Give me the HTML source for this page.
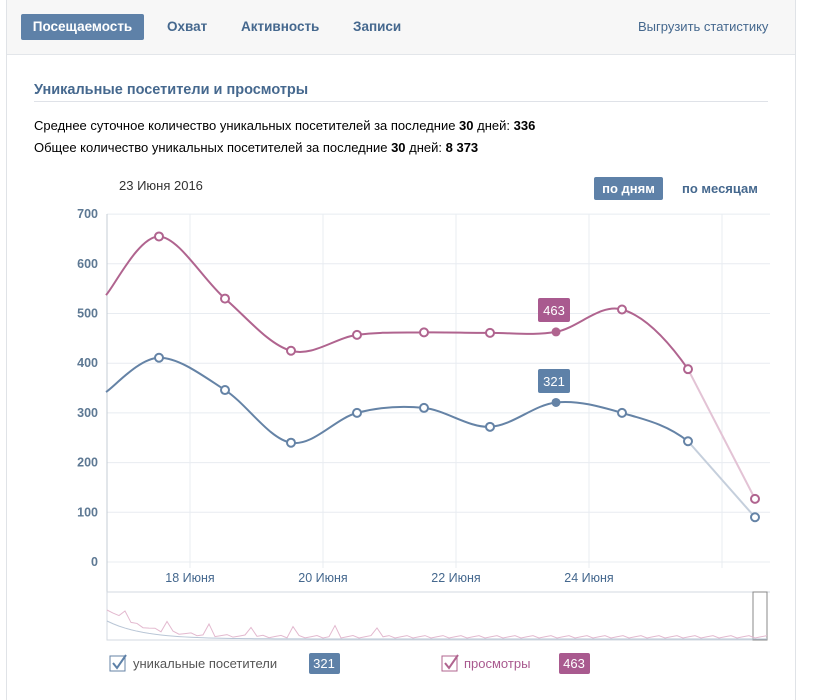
<!DOCTYPE html>
<html><head><meta charset="utf-8"><style>
body{margin:0;width:825px;height:700px;background:#fff;font-family:"Liberation Sans","DejaVu Sans",sans-serif;position:relative;overflow:hidden}
.panel{position:absolute;left:6px;top:0;width:788px;height:700px;border-left:1px solid #e0e3e7;border-right:1px solid #e0e3e7;background:#fff}
.head{position:absolute;left:0;top:0;width:788px;height:54px;background:#f7f7f7;border-bottom:1px solid #e3e6ea}
.t{position:absolute;font-size:13.5px;color:#45688e;font-weight:bold;top:19px}
.sel{position:absolute;left:14px;top:14px;width:123px;height:26px;background:#5e81a8;border-radius:2px;color:#fff;font-weight:bold;font-size:13.5px;line-height:26px;text-align:center}
.a{position:absolute;font-size:13px;color:#000}
</style></head><body>
<div class="panel">
<div class="head">
<div class="sel">Посещаемость</div>
<div class="t" style="left:160px">Охват</div>
<div class="t" style="left:234px">Активность</div>
<div class="t" style="left:346px">Записи</div>
<div class="t" style="left:631px;font-weight:normal;color:#45688e;font-size:13px">Выгрузить статистику</div>
</div>
<div style="position:absolute;left:27px;top:82px;font-size:14.5px;font-weight:bold;color:#45688e">Уникальные посетители и просмотры</div>
<div style="position:absolute;left:27px;top:101px;width:734px;border-top:1px solid #dfe2e8"></div>
<div class="a" style="left:27px;top:118px">Среднее суточное количество уникальных посетителей за последние <b>30</b> дней: <b>336</b></div>
<div class="a" style="left:27px;top:140px">Общее количество уникальных посетителей за последние <b>30</b> дней: <b>8 373</b></div>
<div class="a" style="left:112px;top:178px;color:#333">23 Июня 2016</div>
<div style="position:absolute;left:587px;top:177px;width:69px;height:23px;background:#5e81a8;color:#fff;font-weight:bold;font-size:13px;line-height:23px;text-align:center;border-radius:2px">по дням</div>
<div class="t" style="left:675px;top:181px;font-size:13px">по месяцам</div>
</div>
<svg width="825" height="700" style="position:absolute;left:0;top:0" id="s" font-family="Liberation Sans, sans-serif"></svg>
<script>
var s=document.getElementById('s'),h='';
function Y(v){return 562-v*0.497}
for(var v=0;v<=700;v+=100){h+='<line x1="107" x2="770" y1="'+Y(v)+'" y2="'+Y(v)+'" stroke="#e8ecf1"/>';h+='<text x="98" y="'+(Y(v)+4)+'" text-anchor="end" font-size="12.5" font-weight="bold" fill="#5d7893">'+v+'</text>';}
var gx=[190,323,456,589,722],gl=['18 Июня','20 Июня','22 Июня','24 Июня'];
gx.forEach(function(x,i){h+='<line x1="'+x+'" x2="'+x+'" y1="214" y2="568" stroke="#e8ecf1"/>';if(gl[i])h+='<text x="'+x+'" y="582" text-anchor="middle" font-size="12.5" fill="#45688e">'+gl[i]+'</text>';});
h+='<line x1="107" x2="107" y1="214" y2="592" stroke="#c5ccd4"/>';
h+='<line x1="107" x2="770" y1="592" y2="592" stroke="#d3d9e0"/><rect x="107" y="592" width="660" height="48" fill="none" stroke="#d3d9e0"/><rect x="753" y="592" width="14" height="48" fill="none" stroke="#888"/>';
var xs=[106,159,225,291,357,424,490,556,622,688,755];
var V=[537,655,530,425,457,462,461,463,508,388,127],U=[342,411,346,240,300,310,272,321,300,243,90];
function path(d,a,b){var p=d.map(function(v,i){return [xs[i],Y(v)]});var r='M'+p[a][0]+','+p[a][1];for(var i=a;i<b;i++){var p0=p[Math.max(i-1,0)],p1=p[i],p2=p[i+1],p3=p[Math.min(i+2,p.length-1)];var t=6;r+=' C'+(p1[0]+(p2[0]-p0[0])/t)+','+(p1[1]+(p2[1]-p0[1])/t)+' '+(p2[0]-(p3[0]-p1[0])/t)+','+(p2[1]-(p3[1]-p1[1])/t)+' '+p2[0]+','+p2[1];}return r}
[[V,'#b0648f','#e3c3d5'],[U,'#6583a6','#c5cfdc']].forEach(function(c){
h+='<path d="'+path(c[0],0,9)+'" fill="none" stroke="'+c[1]+'" stroke-width="2"/>';
h+='<line x1="688" y1="'+Y(c[0][9])+'" x2="755" y2="'+Y(c[0][10])+'" stroke="'+c[2]+'" stroke-width="2"/>';
for(var i=1;i<11;i++){if(i==7)h+='<circle cx="556" cy="'+Y(c[0][7])+'" r="4.5" fill="'+c[1]+'"/>';else h+='<circle cx="'+xs[i]+'" cy="'+Y(c[0][i])+'" r="4" fill="#fff" stroke="'+c[1]+'" stroke-width="2"/>';}
});
h+='<rect x="538" y="298" width="32" height="24" rx="2" fill="#a95a8f"/><text x="554" y="315" text-anchor="middle" fill="#fff" font-size="13">463</text>';
h+='<rect x="538" y="369" width="32" height="24" rx="2" fill="#5e81a8"/><text x="554" y="386" text-anchor="middle" fill="#fff" font-size="13">321</text>';
// minimap
var mp='',mu='';for(var i=0;i<=110;i++){var x=107+i*6;var e=Math.exp(-i/6);var vp=638-28*e-(i%7==3&&i<50?10:0)-(i%3)*1.2;var vu=639-18*e;mp+=(i?'L':'M')+x+','+vp;mu+=(i?'L':'M')+x+','+vu;}
h+='<path d="'+mp+'" fill="none" stroke="#e3b9cf"/><path d="'+mu+'" fill="none" stroke="#b9c6d6"/>';
// legend
h+='<rect x="110" y="656" width="15" height="15" fill="#fff" stroke="#6583a6"/><path d="M113 663 l4 5 l9 -13" fill="none" stroke="#5e81a8" stroke-width="2"/>';
h+='<text x="133" y="668" font-size="13" fill="#555">уникальные посетители</text><rect x="309" y="653" width="31" height="21" rx="2" fill="#5e81a8"/><text x="324" y="668" text-anchor="middle" font-size="13" fill="#fff">321</text>';
h+='<rect x="442" y="656" width="15" height="15" fill="#fff" stroke="#b0648f"/><path d="M445 663 l4 5 l9 -13" fill="none" stroke="#b0648f" stroke-width="2"/>';
h+='<text x="464" y="668" font-size="13" fill="#a95a8f">просмотры</text><rect x="559" y="653" width="31" height="21" rx="2" fill="#a95a8f"/><text x="574" y="668" text-anchor="middle" font-size="13" fill="#fff">463</text>';
s.innerHTML=h;
</script>
</body></html>
